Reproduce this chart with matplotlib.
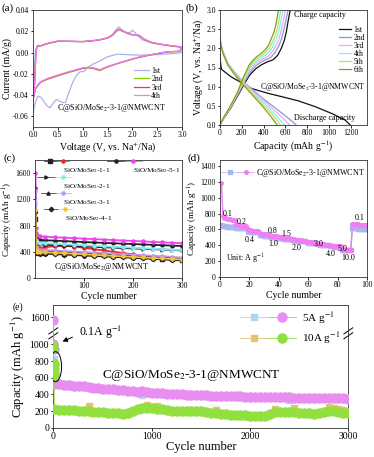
import numpy as np
import matplotlib
matplotlib.use("Agg")
import matplotlib.pyplot as plt
from matplotlib.legend import Legend
from matplotlib.legend_handler import HandlerTuple
from matplotlib.patches import Ellipse
from matplotlib.lines import Line2D

plt.rcParams['font.family'] = ['Liberation Serif', 'DejaVu Serif']
plt.rcParams['mathtext.fontset'] = 'stix'
plt.rcParams['axes.linewidth'] = 0.6
plt.rcParams['xtick.major.width'] = 0.6
plt.rcParams['ytick.major.width'] = 0.6
plt.rcParams['xtick.major.size'] = 1.8
plt.rcParams['ytick.major.size'] = 1.8

# ---------------- (a) CV data ----------------
a_v1 = [0.0, 0.02, 0.05, 0.08, 0.1, 0.15, 0.2, 0.35, 0.5, 0.7, 0.9, 1.0, 1.2, 1.35, 1.5, 1.6, 1.68, 1.73, 1.8, 1.9, 1.96, 2.0, 2.05, 2.1, 2.2, 2.4, 2.6, 2.8, 3.0,
        3.0, 2.8, 2.5, 2.2, 1.9, 1.7, 1.5, 1.42, 1.3, 1.2, 1.1, 1.02, 0.95, 0.88, 0.8, 0.72, 0.65, 0.6, 0.55, 0.47, 0.4, 0.34, 0.28, 0.22, 0.16, 0.1, 0.06, 0.03, 0.0]
a_i1 = [-0.058, -0.02, 0.003, 0.005, 0.006, 0.0065, 0.007, 0.009, 0.0105, 0.0105, 0.0102, 0.0102, 0.011, 0.012, 0.014, 0.017, 0.022, 0.024, 0.021, 0.0185, 0.019, 0.021, 0.019, 0.016, 0.012, 0.009, 0.0075, 0.006, 0.005,
        0.0, -0.001, -0.002, -0.0025, -0.002, -0.0015, -0.004, -0.006, -0.009, -0.011, -0.014, -0.018, -0.018, -0.021, -0.028, -0.038, -0.047, -0.047, -0.046, -0.044, -0.048, -0.052, -0.05, -0.046, -0.042, -0.041, -0.045, -0.05, -0.058]
a_v2 = [0.0, 0.03, 0.06, 0.08, 0.1, 0.15, 0.2, 0.35, 0.5, 0.7, 0.9, 1.0, 1.2, 1.35, 1.5, 1.6, 1.68, 1.73, 1.8, 1.9, 2.0, 2.08, 2.15, 2.25, 2.4, 2.6, 2.8, 3.0,
        2.95, 2.7, 2.4, 2.1, 1.8, 1.6, 1.45, 1.35, 1.25, 1.12, 1.0, 0.85, 0.7, 0.5, 0.3, 0.15, 0.05, 0.0]
a_i2 = [-0.043, -0.030, 0.0, 0.005, 0.006, 0.006, 0.007, 0.009, 0.0105, 0.0105, 0.0103, 0.0102, 0.011, 0.012, 0.0135, 0.016, 0.020, 0.0215, 0.020, 0.018, 0.0165, 0.0165, 0.0155, 0.012, 0.009, 0.0075, 0.006, 0.005,
        0.001, 0.0005, -0.002, -0.005, -0.009, -0.012, -0.0145, -0.017, -0.0155, -0.0145, -0.015, -0.017, -0.019, -0.022, -0.025, -0.028, -0.034, -0.043]
a_v3 = [0.0, 0.03, 0.06, 0.08, 0.1, 0.15, 0.2, 0.35, 0.5, 0.7, 0.9, 1.0, 1.2, 1.35, 1.5, 1.6, 1.68, 1.73, 1.8, 1.9, 2.0, 2.08, 2.15, 2.25, 2.4, 2.6, 2.8, 3.0,
        2.95, 2.7, 2.4, 2.1, 1.8, 1.6, 1.45, 1.35, 1.25, 1.12, 1.0, 0.85, 0.7, 0.5, 0.3, 0.15, 0.05, 0.0]
a_i3 = [-0.045, -0.031, 0.0, 0.0055, 0.0065, 0.0062, 0.0072, 0.0092, 0.0107, 0.0106, 0.0104, 0.0103, 0.0111, 0.0121, 0.0137, 0.0163, 0.0205, 0.0218, 0.0203, 0.0182, 0.0167, 0.0168, 0.0157, 0.0122, 0.0092, 0.0076, 0.0062, 0.0052,
        0.0012, 0.0006, -0.0018, -0.0048, -0.0088, -0.0118, -0.0143, -0.0165, -0.0150, -0.0140, -0.0147, -0.0166, -0.0186, -0.0215, -0.0245, -0.0278, -0.0340, -0.045]
a_v4 = [0.0, 0.03, 0.06, 0.08, 0.1, 0.15, 0.2, 0.35, 0.5, 0.7, 0.9, 1.0, 1.2, 1.35, 1.5, 1.6, 1.68, 1.73, 1.8, 1.9, 2.0, 2.08, 2.15, 2.25, 2.4, 2.6, 2.8, 3.0,
        2.95, 2.7, 2.4, 2.1, 1.8, 1.6, 1.45, 1.35, 1.25, 1.12, 1.0, 0.85, 0.7, 0.5, 0.3, 0.15, 0.05, 0.0]
a_i4 = [-0.044, -0.030, 0.0, 0.006, 0.007, 0.0064, 0.0074, 0.0094, 0.0108, 0.0107, 0.0105, 0.0104, 0.0112, 0.0122, 0.0139, 0.0166, 0.021, 0.0222, 0.0206, 0.0184, 0.0169, 0.017, 0.0159, 0.0124, 0.0094, 0.0078, 0.0064, 0.0054,
        0.0013, 0.0007, -0.0017, -0.0046, -0.0086, -0.0116, -0.0140, -0.0162, -0.0148, -0.0138, -0.0144, -0.0163, -0.0183, -0.0212, -0.0242, -0.0275, -0.0336, -0.044]
a_labels = ['1st', '2nd', '3rd', '4th']

# ---------------- (b) GCD data ----------------
b_dis_cap = [
    [0, 3, 8, 15, 46, 100, 199, 260, 352, 450, 566, 719, 873, 1026, 1148, 1195],
    [0, 5, 28, 74, 135, 200, 300, 400, 500, 600, 660, 700],
    [0, 5, 27, 73, 134, 198, 290, 380, 470, 550, 605, 640],
    [0, 5, 26, 72, 133, 196, 282, 365, 445, 515, 560, 590],
    [0, 5, 26, 71, 131, 193, 272, 348, 422, 488, 530, 555],
    [0, 5, 25, 70, 130, 190, 260, 330, 400, 460, 500, 525],
]
b_dis_v = [
    [1.83, 1.7, 1.55, 1.45, 1.38, 1.26, 1.10, 0.98, 0.90, 0.82, 0.74, 0.63, 0.48, 0.30, 0.13, 0.0],
    [2.3, 2.15, 1.91, 1.6, 1.38, 1.17, 0.92, 0.68, 0.46, 0.24, 0.1, 0.0],
    [2.3, 2.15, 1.90, 1.59, 1.37, 1.16, 0.92, 0.69, 0.46, 0.25, 0.1, 0.0],
    [2.3, 2.15, 1.89, 1.58, 1.36, 1.15, 0.91, 0.68, 0.46, 0.25, 0.1, 0.0],
    [2.3, 2.15, 1.89, 1.58, 1.35, 1.14, 0.91, 0.68, 0.46, 0.25, 0.1, 0.0],
    [2.3, 2.15, 1.88, 1.57, 1.33, 1.12, 0.90, 0.68, 0.46, 0.25, 0.1, 0.0],
]
b_chg_cap = [
    [0, 30, 100, 160, 227, 272, 330, 380, 430, 487, 530, 563, 590, 609, 625, 645],
    [0, 30, 100, 160, 224, 270, 322, 365, 412, 465, 508, 540, 565, 585, 605, 625],
    [0, 30, 100, 160, 221, 268, 316, 355, 400, 450, 490, 520, 545, 565, 583, 600],
    [0, 30, 100, 160, 218, 267, 310, 348, 390, 437, 475, 502, 527, 546, 562, 578],
    [0, 30, 100, 160, 215, 266, 305, 342, 382, 425, 462, 488, 512, 530, 545, 557],
    [0, 30, 100, 160, 211, 265, 300, 336, 375, 415, 450, 472, 495, 512, 525, 537],
]
b_chg_v = [
    [0, 0.15, 0.45, 0.75, 1.09, 1.30, 1.47, 1.57, 1.64, 1.70, 1.82, 2.0, 2.2, 2.43, 2.7, 3.0],
    [0, 0.16, 0.47, 0.78, 1.12, 1.35, 1.52, 1.62, 1.69, 1.76, 1.90, 2.06, 2.25, 2.47, 2.72, 3.0],
    [0, 0.16, 0.48, 0.80, 1.14, 1.40, 1.56, 1.66, 1.73, 1.81, 1.95, 2.10, 2.28, 2.50, 2.74, 3.0],
    [0, 0.17, 0.49, 0.82, 1.16, 1.45, 1.60, 1.70, 1.77, 1.86, 2.00, 2.15, 2.32, 2.53, 2.76, 3.0],
    [0, 0.17, 0.50, 0.83, 1.19, 1.50, 1.64, 1.74, 1.81, 1.91, 2.05, 2.20, 2.36, 2.56, 2.78, 3.0],
    [0, 0.18, 0.52, 0.85, 1.22, 1.55, 1.68, 1.78, 1.86, 1.96, 2.10, 2.26, 2.42, 2.60, 2.80, 3.0],
]
b_labels = ['1st', '2nd', '3rd', '4th', '5th', '6th']
b_colors = ['#111111', '#8c9ad4', '#f4a4f4', '#7ff4f4', '#b4e464', '#8c9a1c']

# ---------------- (c) cycling data ----------------
c_cycles = [1, 2, 3, 5, 10, 20, 40, 60, 80, 100, 120, 140, 160, 180, 200, 220, 240, 260, 280, 300]
c_11_col = [1000, 440, 430, 440, 455, 470, 485, 490, 480, 460, 440, 420, 400, 380, 360, 340, 320, 305, 290, 275]
c_11_blk = [900, 420, 400, 395, 385, 382, 378, 373, 368, 362, 355, 348, 340, 332, 323, 313, 303, 293, 283, 272]
c_51_col = [1600, 760, 680, 650, 635, 630, 622, 615, 608, 600, 593, 586, 579, 572, 565, 558, 551, 544, 537, 530]
c_51_blk = [1370, 620, 600, 590, 580, 576, 570, 563, 556, 549, 542, 536, 530, 524, 518, 512, 506, 500, 494, 488]
c_21_col = [1160, 580, 560, 545, 535, 530, 522, 515, 507, 500, 492, 485, 477, 470, 462, 455, 447, 440, 432, 425]
c_21_blk = [1150, 560, 530, 520, 512, 508, 500, 494, 488, 481, 475, 469, 463, 457, 451, 445, 440, 434, 428, 420]
c_31_col = [1320, 470, 450, 440, 430, 426, 420, 412, 404, 396, 388, 380, 372, 364, 356, 348, 340, 332, 322, 312]
c_31_blk = [1050, 450, 430, 420, 412, 408, 402, 394, 386, 378, 370, 362, 354, 346, 338, 330, 322, 314, 306, 298]
c_41_col = [1040, 430, 410, 400, 395, 392, 386, 378, 370, 362, 354, 346, 338, 330, 322, 314, 306, 298, 290, 282]
c_41_blk = [1010, 400, 385, 375, 372, 370, 365, 358, 350, 343, 336, 329, 322, 315, 307, 299, 291, 283, 275, 268]
c_names = ['SiO/MoSe$_2$-1-1', 'SiO/MoSe$_2$-5-1', 'SiO/MoSe$_2$-2-1', 'SiO/MoSe$_2$-3-1', 'SiO/MoSe$_2$-4-1']

# ---------------- (d) rate data ----------------
d_cycles = list(range(1, 101))
d_dis = [1190, 770, 750, 740, 735, 730, 727, 724, 722, 720,
         665, 655, 650, 648, 646, 644, 642, 640,
         600, 592, 588, 585, 583, 581, 579, 577,
         550, 546, 543, 541, 539, 537, 535, 533,
         520, 517, 515, 513, 511, 509, 507, 505,
         495, 492, 490, 488, 486, 484, 482, 480,
         470, 467, 465, 463, 461, 459, 457, 455,
         445, 442, 440, 438, 436, 434, 432, 430,
         420, 417, 415, 413, 411, 409, 407, 405,
         400, 397, 395, 393, 391, 389, 387, 385,
         350, 347, 345, 343, 342, 341, 340,
         670, 668, 666, 664, 662, 660, 658, 656, 654, 652, 650]
d_chg = [650, 645, 640, 638, 636, 634, 633, 632, 636, 640,
         622, 620, 618, 617, 616, 615, 614, 612,
         575, 572, 570, 568, 566, 565, 563, 562,
         530, 527, 525, 523, 521, 520, 518, 517,
         503, 501, 499, 497, 496, 494, 493, 492,
         482, 480, 478, 476, 475, 473, 472, 470,
         460, 458, 456, 454, 452, 451, 449, 448,
         435, 433, 431, 429, 427, 425, 424, 422,
         410, 408, 406, 404, 402, 400, 399, 398,
         390, 388, 386, 384, 382, 380, 379, 378,
         342, 340, 339, 338, 337, 336, 335,
         615, 614, 613, 612, 611, 610, 610, 609, 608, 608, 607]
d_rate_labels = ['0.1', '0.2', '0.4', '0.8', '1.0', '1.5', '2.0', '3.0', '4.0', '5.0', '10.0', '0.1']
d_rate_x = [5.5, 15, 20.5, 36, 36, 45, 52, 67, 75, 83, 87.5, 95]
d_rate_y = [790, 690, 470, 580, 410, 545, 360, 410, 295, 350, 235, 745]

# ---------------- (e) long cycling data ----------------
e_init_x = [1, 2, 3, 4, 5]
e_x_main = np.linspace(10, 3000, 61)
e_5A_circ = [525, 520, 515, 510, 505, 500, 495, 490, 482, 476, 470, 465, 460, 455, 450, 445, 440, 432, 440, 425,
             420, 415, 412, 410, 406, 404, 400, 398, 396, 393, 391, 388, 386, 384, 382, 380, 378, 377, 375, 374,
             372, 371, 370, 368, 367, 366, 365, 364, 363, 362, 361, 360, 359, 358, 357, 356, 355, 354, 353, 352, 350]
e_5A_sq = [520, 515, 510, 505, 500, 495, 490, 485, 478, 472, 466, 460, 455, 450, 445, 440, 435, 428, 392, 420,
           415, 411, 408, 405, 402, 400, 396, 394, 392, 390, 388, 385, 383, 381, 379, 377, 375, 374, 372, 371,
           369, 368, 367, 365, 364, 363, 362, 361, 335, 359, 358, 357, 356, 355, 354, 353, 352, 351, 350, 349, 347]
e_10A_circ = [230, 215, 210, 212, 208, 200, 195, 198, 190, 188, 185, 182, 178, 175, 170, 172, 205, 220, 235, 240,
              235, 228, 220, 212, 205, 198, 195, 200, 198, 195, 198, 190, 182, 178, 170, 165, 158, 152, 150, 148,
              145, 142, 140, 138, 170, 185, 188, 190, 192, 188, 180, 175, 172, 170, 172, 190, 200, 195, 188, 182, 180]
e_10A_sq = [228, 212, 208, 210, 206, 198, 193, 255, 188, 186, 183, 180, 176, 173, 168, 170, 203, 218, 233, 268,
            233, 262, 218, 210, 203, 196, 193, 198, 196, 193, 196, 188, 180, 212, 168, 163, 156, 150, 148, 146,
            143, 140, 138, 136, 168, 225, 186, 188, 190, 232, 178, 173, 170, 168, 170, 188, 245, 238, 225, 215, 178]
e_5A_circ_init = [1570, 1005, 940, 760, 640]
e_5A_sq_init = [1560, 990, 830, 700, 600]
e_10A_circ_init = [980, 960, 760, 700, 620]
e_10A_sq_init = [970, 950, 680, 600, 560]

# ---------------- figure ----------------
fig = plt.figure(figsize=(3.74, 4.57), dpi=100)
W, H = 374.0, 457.0
def box(l, r, t, b):
    return [l / W, 1 - b / H, (r - l) / W, (b - t) / H]

tfs, lfs = 5.5, 7
def style(ax, fs=tfs):
    ax.tick_params(labelsize=fs, pad=1.2, direction='out')
    for s in ax.spines.values():
        s.set_color('#333333')

tup = {tuple: HandlerTuple(ndivide=None, pad=0)}

# (a)
axa = fig.add_axes(box(33, 182, 10, 127))
a_cols = ['#a9b2ea', '#7fd400', '#e8328e', '#f27cf2']
for v, i, c, lab in zip([a_v1, a_v2, a_v3, a_v4], [a_i1, a_i2, a_i3, a_i4], a_cols, a_labels):
    axa.plot(v, i, color=c, lw=0.9, label=lab)
axa.set_xlim(0, 3.0)
axa.set_ylim(-0.07, 0.04)
axa.set_xticks([0, 0.5, 1.0, 1.5, 2.0, 2.5, 3.0])
axa.set_yticks([-0.06, -0.04, -0.02, 0.0, 0.02, 0.04])
axa.yaxis.set_major_formatter(matplotlib.ticker.FormatStrFormatter('%.2f'))
axa.xaxis.set_major_formatter(matplotlib.ticker.FormatStrFormatter('%.1f'))
style(axa)
axa.set_xlabel('Voltage (V, vs. Na$^{+}$/Na)', fontsize=lfs, labelpad=1)
axa.set_ylabel('Current (mA/g)', fontsize=lfs, labelpad=1)
axa.legend(loc='upper left', bbox_to_anchor=(0.68, 0.515), frameon=False, fontsize=5.5,
           handlelength=1.9, handletextpad=0.3, labelspacing=0.05, borderpad=0, borderaxespad=0)
axa.text(1.58, -0.0525, 'C@SiO/MoSe$_2$-3-1@NMWCNT', fontsize=5.8, ha='center', va='center')
fig.text(2 / W, 1 - 8 / H, '(a)', fontsize=8, va='center', ha='left')

# (b)
axb = fig.add_axes(box(220, 367, 10, 125))
for k in range(6):
    axb.plot(b_dis_cap[k], b_dis_v[k], color=b_colors[k], lw=0.9, label=b_labels[k])
    axb.plot(b_chg_cap[k], b_chg_v[k], color=b_colors[k], lw=0.9)
axb.set_xlim(0, 1350)
axb.set_ylim(0, 3.0)
axb.set_xticks([0, 200, 400, 600, 800, 1000, 1200])
axb.set_yticks([0, 0.5, 1.0, 1.5, 2.0, 2.5, 3.0])
axb.yaxis.set_major_formatter(matplotlib.ticker.FormatStrFormatter('%.1f'))
style(axb)
axb.set_xlabel('Capacity (mAh g$^{-1}$)', fontsize=lfs, labelpad=1)
axb.set_ylabel('Voltage (V, vs. Na$^{+}$/Na)', fontsize=lfs, labelpad=1)
axb.legend(loc='upper left', bbox_to_anchor=(0.81, 0.86), frameon=False, fontsize=5.5,
           handlelength=1.6, handletextpad=0.3, labelspacing=0.0, borderpad=0, borderaxespad=0)
axb.text(680, 2.88, 'Charge capacity', fontsize=5.8, ha='left', va='center')
axb.text(850, 0.98, 'C@SiO/MoSe$_2$-3-1@NMWCNT', fontsize=5.6, ha='center', va='center')
axb.text(957, 0.17, 'Discharge capacity', fontsize=5.8, ha='center', va='center')
fig.text(186 / W, 1 - 8 / H, '(b)', fontsize=8, va='center', ha='left')

# (c)
axc = fig.add_axes(box(35, 182, 160, 278))
ms = 2.2
series_c = [
    (c_11_blk, 's', c_11_col, '#f02828'),
    (c_51_blk, 'o', c_51_col, '#f040f0'),
    (c_21_blk, '>', c_21_col, '#8ae6f6'),
    (c_31_blk, '^', c_31_col, '#c394f4'),
    (c_41_blk, 'D', c_41_col, '#f6c43c'),
]
c_handles = []
for blk, bm, col, cc in series_c:
    axc.plot(c_cycles, blk, color='#222222', marker=bm, ms=ms, lw=1.3)
    axc.plot(c_cycles, col, color=cc, marker='o', ms=ms, lw=1.3)
    p1 = Line2D([], [], color='#222222', marker=bm, ms=2.3, lw=0.5)
    p2 = Line2D([], [], color=cc, marker='o', ms=2.3, lw=0.5)
    c_handles.append((p1, p2))
axc.set_xlim(0, 300)
axc.set_ylim(0, 1800)
axc.set_xticks([100, 200, 300])
axc.set_yticks([0, 400, 800, 1200, 1600])
style(axc)
axc.set_xlabel('Cycle number', fontsize=lfs, labelpad=1)
axc.set_ylabel('Capacity (mAh g$^{-1}$)', fontsize=6.6, labelpad=0.5)
c_leg_pos = [(0.058, 0.983, 3.1), (0.493, 0.983, 4.1), (0.017, 0.847, 4.1), (0.04, 0.712, 3.6), (0.061, 0.576, 3.4)]
for (x0, y0, hl), hh in zip(c_leg_pos, c_handles):
    leg = Legend(axc, [hh], [''], loc='center left', bbox_to_anchor=(x0, y0), bbox_transform=axc.transAxes,
                 frameon=False, handlelength=hl, handletextpad=0, borderpad=0, borderaxespad=0, fontsize=6,
                 handler_map=tup)
    axc.add_artist(leg)
c_text_pos = [(0.19, 0.907), (0.667, 0.907), (0.19, 0.771), (0.19, 0.636), (0.204, 0.508)]
for t, (x, y) in zip(c_names, c_text_pos):
    axc.text(x, y, t, transform=axc.transAxes, fontsize=5.2, ha='left', va='center')
axc.text(137, 169, 'C@SiO/MoSe$_2$@NMWCNT', fontsize=5.8, ha='center', va='center')
fig.text(3 / W, 1 - 158 / H, '(c)', fontsize=8, va='center', ha='left')

# (d)
axd = fig.add_axes(box(220, 367, 160, 277))
axd.plot(d_cycles, d_chg, color='#a9b8ec', marker='s', ms=2.2, lw=1)
axd.plot(d_cycles, d_dis, color='#f27cf2', marker='o', ms=2.5, lw=1)
pb = Line2D([], [], color='#a9b8ec', marker='s', ms=2.2, lw=0.5)
pp = Line2D([], [], color='#f27cf2', marker='o', ms=2.5, lw=0.5)
axd.set_xlim(0, 100)
axd.set_ylim(0, 1475)
axd.set_xticks([0, 20, 40, 60, 80, 100])
axd.set_yticks([0, 200, 400, 600, 800, 1000, 1200, 1400])
style(axd)
axd.set_xlabel('Cycle number', fontsize=lfs, labelpad=1)
axd.set_ylabel('Capacity (mAh g$^{-1}$)', fontsize=6.6, labelpad=0.5)
axd.legend([(pb, pp)], ['C@SiO/MoSe$_2$-3-1@NMWCNT'], loc='center left', bbox_to_anchor=(0.01, 0.889),
           frameon=False, fontsize=5.8, handlelength=4.1, handletextpad=0.2, borderpad=0, borderaxespad=0,
           handler_map=tup)
for t, x, y in zip(d_rate_labels, d_rate_x, d_rate_y):
    axd.text(x, y, t, fontsize=5.8, ha='center', va='center')
axd.text(4, 230, 'Unit: A g$^{-1}$', fontsize=5.8, ha='left', va='center')
fig.text(188 / W, 1 - 158 / H, '(d)', fontsize=8, va='center', ha='left')

# (e) broken y axis via piecewise scale
B1, B2 = 1132.0, 1408.0
def fwd(y):
    y = np.asarray(y, dtype=float)
    return np.where(y <= B1, y, np.where(y >= B2, y - (B2 - B1), B1))
def inv(t):
    t = np.asarray(t, dtype=float)
    return np.where(t <= B1, t, t + (B2 - B1))

axe = fig.add_axes(box(53.3, 348.3, 305, 427.7))
axe.set_yscale('function', functions=(fwd, inv))
ex_all = np.concatenate([e_init_x, e_x_main])
axe.plot(ex_all, np.concatenate([e_5A_sq_init, e_5A_sq]), color='#a8d8f2', marker='s', ms=5, lw=0.6, zorder=2)
axe.plot(ex_all, np.concatenate([e_5A_circ_init, e_5A_circ]), color='#e78ef0', marker='o', ms=6.5, lw=0.6, zorder=3)
axe.plot(ex_all, np.concatenate([e_10A_sq_init, e_10A_sq]), color='#e8c274', marker='s', ms=5, lw=0.6, zorder=2)
axe.plot(ex_all, np.concatenate([e_10A_circ_init, e_10A_circ]), color='#92e040', marker='o', ms=6.5, lw=0.6, zorder=3)
axe.set_xlim(0, 3000)
axe.set_ylim(0, 1748)
axe.set_xticks([0, 1000, 2000, 3000])
axe.set_yticks([0, 200, 400, 600, 800, 1000, 1600])
axe.yaxis.set_major_formatter(matplotlib.ticker.FormatStrFormatter('%d'))
axe.yaxis.set_minor_locator(matplotlib.ticker.NullLocator())
style(axe, fs=7)
axe.set_xlabel('Cycle number', fontsize=9, labelpad=0)
axe.set_ylabel('Capacity (mAh g$^{-1}$)', fontsize=9, labelpad=2)
h5a = Line2D([], [], color='#a8d8f2', marker='s', ms=5, lw=0.6)
h5b = Line2D([], [], color='#e78ef0', marker='o', ms=6.5, lw=0.6)
h10a = Line2D([], [], color='#e8c274', marker='s', ms=5, lw=0.6)
h10b = Line2D([], [], color='#92e040', marker='o', ms=6.5, lw=0.6)
axe.legend([(h5a, h5b), (h10a, h10b)], ['5A g$^{-1}$', '10A g$^{-1}$'], loc='center left',
           bbox_to_anchor=(0.633, 0.8125), frameon=False, fontsize=8, handlelength=5, handletextpad=0.6,
           labelspacing=0.45, borderpad=0, borderaxespad=0, handler_map=tup)
# break marks
ybrk = fwd(B1) / fwd(1748)
for xs in (0.0, 1.0):
    for dy in (-0.02, 0.02):
        axe.plot([xs - 0.015, xs + 0.015], [ybrk + dy - 0.025, ybrk + dy + 0.025], transform=axe.transAxes,
                 color='k', lw=0.7, clip_on=False)
axe.add_patch(Ellipse((22, 732), 125, 360, fill=False, color='k', lw=0.7, zorder=5))
axe.annotate('', xy=(0.0227, 0.693), xytext=(0.0736, 0.747), xycoords='axes fraction',
             arrowprops=dict(arrowstyle='-|>', color='k', lw=0.7, mutation_scale=7))
axe.text(0.087, 0.777, '0.1A g$^{-1}$', transform=axe.transAxes, fontsize=8.5, ha='left', va='center')
axe.text(1407, 632, 'C@SiO/MoSe$_2$-3-1@NMWCNT', fontsize=9.5, ha='center', va='center')
fig.text(13 / W, 1 - 307 / H, '(e)', fontsize=7, va='center', ha='left')

fig.savefig('out.png', dpi=100)
